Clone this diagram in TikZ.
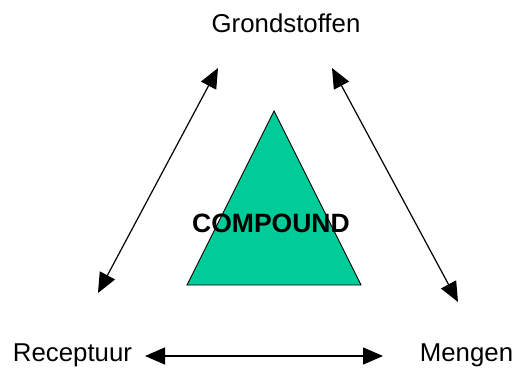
\documentclass[tikz,border=0pt]{standalone}
\usepackage{fontspec}
\setmainfont{Liberation Sans}
\usepackage{xcolor}
\usetikzlibrary{arrows,arrows.meta,positioning}
\definecolor{compoundgreen}{RGB}{0,204,153}

\begin{document}
\begin{tikzpicture}[x=1pt, y=-1pt, line width=1.2pt, >={Triangle[length=20pt,width=17pt]}]
\tikzstyle{every node} = [inner sep=0pt, anchor=base, font=\fontsize{25.8}{30}\selectfont]
\tikzset{tri/.style={fill=compoundgreen, draw=black, line width=0.9pt}}
\useasboundingbox (0,0) rectangle (513,367);
\coordinate (top) at (274,111);
\coordinate (bl) at (187,285);
\coordinate (br) at (361,285);
\path[tri] (top) -- (br) -- (bl) -- cycle;
\node[font=\fontsize{26.5}{30}\selectfont] (compound) at (271,232.7) {\textbf{COMPOUND}};
\node (grond) at (286,32) {Grondstoffen};
\node (recept) at (72.5,361.5) {Receptuur};
\node (mengen) at (466.5,361.5) {Mengen};
\coordinate (gl) at (218,68);
\coordinate (gr) at (332,68);
\coordinate (rt) at (98,293);
\coordinate (mt) at (458,302);
\coordinate (rr) at (145,356);
\coordinate (ml) at (383,356);
\draw[<->] (rt) -- (gl);
\draw[<->] (gr) -- (mt);
\draw[<->] (rr) -- (ml);
\end{tikzpicture}
\end{document}
